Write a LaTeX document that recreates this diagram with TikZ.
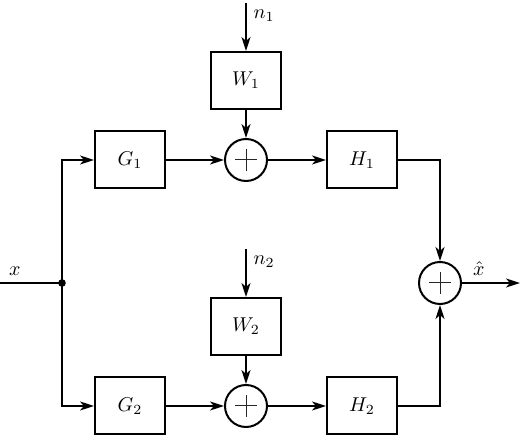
\documentclass[tikz,border=0pt]{standalone}
\usepackage{tikz}
\usetikzlibrary{arrows.meta,calc,positioning}
\tikzset{
  blk/.style={draw, line width=1pt, fill=white, minimum width=35pt, minimum height=28.5pt, inner sep=0pt},
  adder/.style={draw, line width=1pt, circle, minimum size=21pt, inner sep=0pt,
    path picture={\draw[line width=0.5pt, black!85] (path picture bounding box.center)
      +(-5.5pt,0) -- +(5.5pt,0) +(0,-5.5pt) -- +(0,5.5pt);}},
  wire/.style={line width=1pt, -{Stealth[length=7pt, width=4.5pt, inset=2pt]}}
}

\begin{document}
\begin{tikzpicture}[x=1pt,y=1pt]
  \useasboundingbox (-31,-77.5) rectangle (231,141.5);
  % input and branch point
  \coordinate (in) at (-31,0);
  \coordinate (split) at (0,0);
  % upper branch
  \node[blk] (G1) at (34,61.5) {$G_1$};
  \node[adder, right=29pt of G1] (S1) {};
  \node[blk, right=29pt of S1] (H1) {$H_1$};
  \node[blk, above=14pt of S1] (W1) {$W_1$};
  \coordinate[above=24pt of W1] (n1);
  % lower branch
  \node[blk] (G2) at (34,-61.5) {$G_2$};
  \node[adder, right=29pt of G2] (S2) {};
  \node[blk, right=29pt of S2] (H2) {$H_2$};
  \node[blk, above=14pt of S2] (W2) {$W_2$};
  \coordinate[above=24pt of W2] (n2);
  % output sum
  \node[adder] (S3) at (189,0) {};
  \coordinate (out) at (229,0);

  \draw[line width=1pt] (in) -- (split) node[pos=0.24, above] {$x$};
  \fill (split) circle (1.9pt);
  \draw[wire] (split) |- (G1.west);
  \draw[wire] (split) |- (G2.west);
  \draw[wire] (G1) -- (S1);
  \draw[wire] (S1) -- (H1);
  \draw[wire] (W1) -- (S1);
  \draw[wire] (n1) -- (W1.north) node[pos=0.27, right] {$n_1$};
  \draw[wire] (G2) -- (S2);
  \draw[wire] (S2) -- (H2);
  \draw[wire] (W2) -- (S2);
  \draw[wire] (n2) -- (W2.north) node[pos=0.27, right] {$n_2$};
  \draw[wire] (H1.east) -| (S3.north);
  \draw[wire] (H2.east) -| (S3.south);
  \draw[wire] (S3) -- (out) node[pos=0.29, above] {$\hat{x}$};
\end{tikzpicture}
\end{document}
